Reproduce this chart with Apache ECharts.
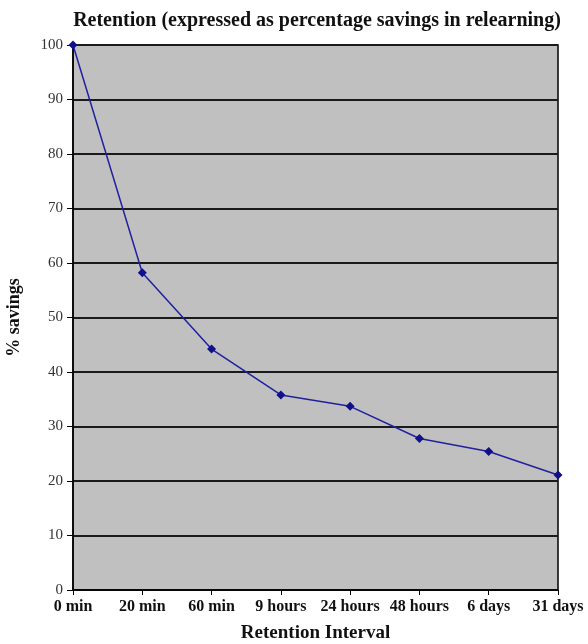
<!DOCTYPE html>
<html>
<head>
<meta charset="utf-8">
<script src="https://cdn.jsdelivr.net/npm/echarts@6/dist/echarts.min.js"></script>
<style>
    html, body { margin: 0; padding: 0; background: #fff; }
    #chart { width: 588px; height: 644px; }
</style>
</head>
<body>
<div id="chart"></div>
<script>
const intervals = ['0 min', '20 min', '60 min', '9 hours', '24 hours', '48 hours', '6 days', '31 days'];
const savings = [100, 58.2, 44.2, 35.8, 33.7, 27.8, 25.4, 21.1];

const serif = '"Liberation Serif", "DejaVu Serif", serif';

const chart = echarts.init(document.getElementById('chart'));
const option = {
    animation: false,
    title: {
        text: 'Retention (expressed as percentage savings in relearning)',
        left: 312,
        top: 6,
        textAlign: 'center',
        textStyle: {fontFamily: serif, fontSize: 20, fontWeight: 'bold', color: '#111'},
    },
    grid: {
        left: 73,
        right: 30,
        top: 45,
        bottom: 54,
        outerBoundsMode: 'none',
        show: true,
        backgroundColor: '#c0c0c0',
        borderColor: '#000',
        borderWidth: 1.5,
    },
    xAxis: {
        type: 'category',
        data: intervals,
        boundaryGap: false,
        name: 'Retention Interval',
        nameLocation: 'middle',
        nameGap: 34,
        nameTextStyle: {fontFamily: serif, fontSize: 19, fontWeight: 'bold', color: '#111'},
        axisLine: {lineStyle: {color: '#000', width: 1.5}},
        axisTick: {show: true, length: 5, lineStyle: {color: '#000'}},
        axisLabel: {fontFamily: serif, fontSize: 16, fontWeight: 'bold', color: '#111', margin: 9, interval: 0},
        splitLine: {show: false},
    },
    yAxis: {
        type: 'value',
        min: 0,
        max: 100,
        interval: 10,
        name: '% savings',
        nameLocation: 'middle',
        nameGap: 50,
        nameTextStyle: {fontFamily: serif, fontSize: 18, fontWeight: 'bold', color: '#111'},
        axisLine: {show: true, lineStyle: {color: '#000', width: 1.5}},
        axisTick: {show: true, length: 6, lineStyle: {color: '#000'}},
        axisLabel: {fontFamily: serif, fontSize: 15, color: '#333', margin: 10},
        splitLine: {show: true, lineStyle: {color: '#1a1a1a', width: 2}},
    },
    series: [
        {
            type: 'line',
            data: savings,
            symbol: 'diamond',
            symbolSize: 9,
            lineStyle: {color: '#2020a0', width: 1.5},
            itemStyle: {color: '#10108a'},
        },
    ],
};
chart.setOption(option);
</script>
</body>
</html>
